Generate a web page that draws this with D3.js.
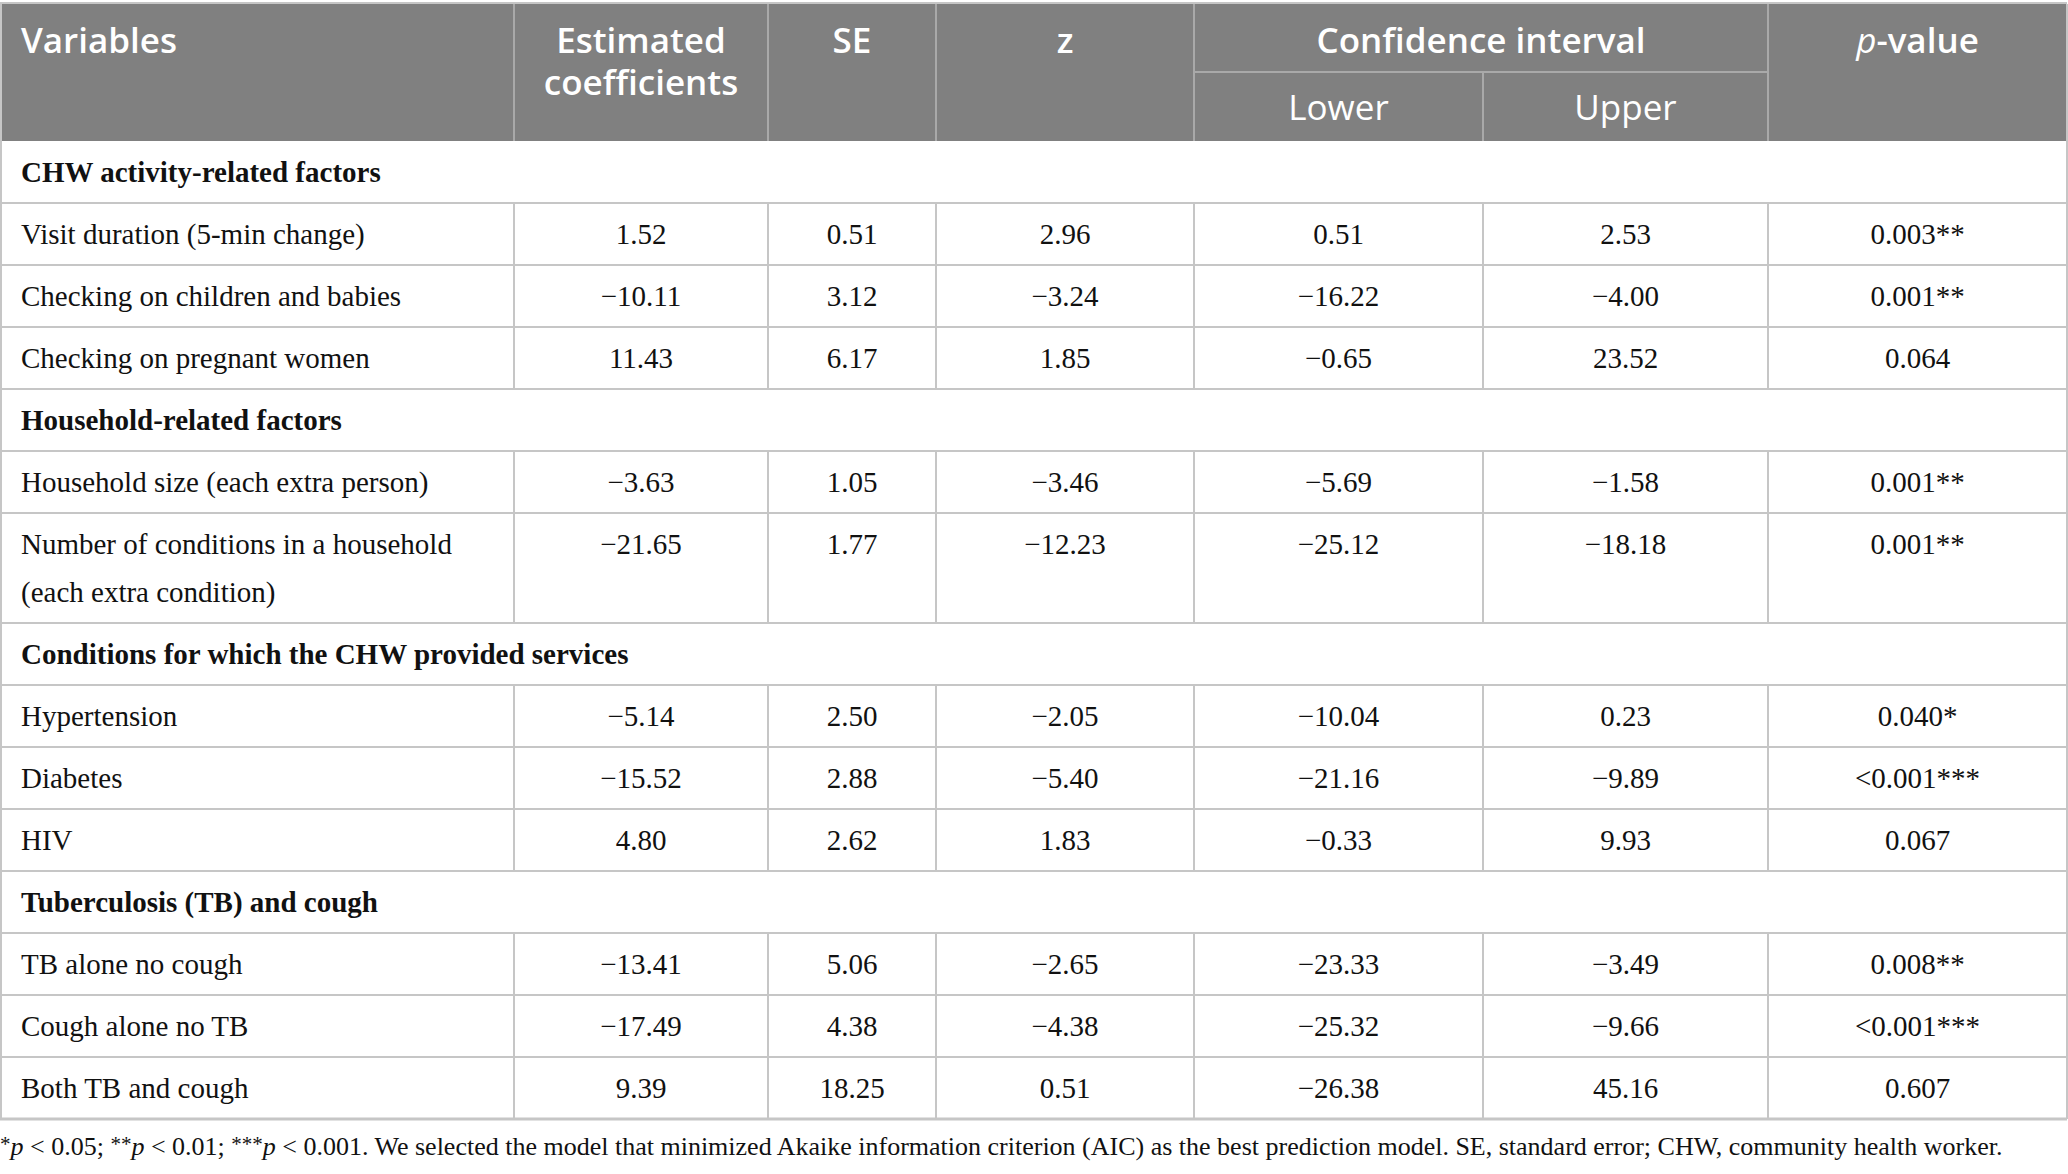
<!DOCTYPE html>
<html>
<head>
<meta charset="utf-8">
<script src="https://cdn.jsdelivr.net/npm/d3@7"></script>
<style>
  html, body { margin: 0; padding: 0; background: #fff; }
  #table svg { display: block; }
</style>
</head>
<body>
<div id="table"></div>
<script>
// table content
const sections = [
    "CHW activity-related factors",
    "Household-related factors",
    "Conditions for which the CHW provided services",
    "Tuberculosis (TB) and cough"
];

const variables = [
    ["Visit duration (5-min change)"],
    ["Checking on children and babies"],
    ["Checking on pregnant women"],
    ["Household size (each extra person)"],
    ["Number of conditions in a household", "(each extra condition)"],
    ["Hypertension"],
    ["Diabetes"],
    ["HIV"],
    ["TB alone no cough"],
    ["Cough alone no TB"],
    ["Both TB and cough"]
];

// which section each variable belongs to
const variableSection = [0, 0, 0, 1, 1, 2, 2, 2, 3, 3, 3];

const coefficients = ["1.52", "−10.11", "11.43", "−3.63", "−21.65", "−5.14", "−15.52", "4.80", "−13.41", "−17.49", "9.39"];
const stdErrors    = ["0.51", "3.12", "6.17", "1.05", "1.77", "2.50", "2.88", "2.62", "5.06", "4.38", "18.25"];
const zValues      = ["2.96", "−3.24", "1.85", "−3.46", "−12.23", "−2.05", "−5.40", "1.83", "−2.65", "−4.38", "0.51"];
const ciLower      = ["0.51", "−16.22", "−0.65", "−5.69", "−25.12", "−10.04", "−21.16", "−0.33", "−23.33", "−25.32", "−26.38"];
const ciUpper      = ["2.53", "−4.00", "23.52", "−1.58", "−18.18", "0.23", "−9.89", "9.93", "−3.49", "−9.66", "45.16"];
const pValues      = ["0.003**", "0.001**", "0.064", "0.001**", "0.001**", "0.040*", "<0.001***", "0.067", "0.008**", "<0.001***", "0.607"];

const columnKeys = ["variable", "coef", "se", "z", "lower", "upper", "p"];
const headerTop = ["Variables", ["Estimated", "coefficients"], "SE", "z", "Confidence interval", "", "p-value"];
const headerSub = ["Lower", "Upper"];

// layout
const width = 2068, height = 1174;
const colEdges = [0, 514, 768, 936, 1194, 1483, 1768, 2067];
const headerY0 = 4, headerMid = 72, headerY1 = 141;
const rowH = 62, lineH = 48;
const headFill = "#808080", headLine = "#a9a9a9", bodyLine = "#c6c6c6";
const serif = "'Liberation Serif', 'DejaVu Serif', serif";
const sans = "'Open Sans', 'Noto Sans', sans-serif";

const x = d3.scaleOrdinal().domain(columnKeys).range(colEdges.slice(0, -1));
const colW = k => colEdges[columnKeys.indexOf(k) + 1] - x(k);
const colCenter = k => x(k) + colW(k) / 2;

// build the row list: section headings + variables
const rows = [];
sections.forEach((s, si) => {
    rows.push({ type: "section", label: [s] });
    variables.forEach((v, i) => {
        if (variableSection[i] !== si) return;
        rows.push({
            type: "data", label: v,
            coef: coefficients[i], se: stdErrors[i], z: zValues[i],
            lower: ciLower[i], upper: ciUpper[i], p: pValues[i]
        });
    });
});
rows.forEach(r => r.h = rowH + (r.label.length - 1) * lineH);
const offsets = [headerY1, ...d3.cumsum(rows, r => r.h).map(c => headerY1 + c)];
rows.forEach((r, i) => { r.y0 = offsets[i]; r.y1 = offsets[i + 1]; });
const tableBottom = offsets[offsets.length - 1];

const svg = d3.select("#table")
    .append("svg")
    .attr("width", width)
    .attr("height", height);

// header block
svg.append("rect")
    .attr("x", 0).attr("y", headerY0)
    .attr("width", colEdges[colEdges.length - 1]).attr("height", headerY1 - headerY0)
    .attr("fill", headFill);

const head = svg.append("g").attr("class", "header")
    .attr("fill", "#fff")
    .style("font-family", sans)
    .style("font-size", "35px")
    .style("font-weight", 600);

// header dividers
head.selectAll("line.v")
    .data(colEdges.slice(1, -1))
    .join("line")
    .attr("x1", d => d).attr("x2", d => d)
    .attr("y1", (d, i) => columnKeys[i + 1] === "upper" ? headerMid : headerY0)
    .attr("y2", headerY1)
    .attr("stroke", headLine).attr("stroke-width", 2);

head.append("line")
    .attr("x1", x("lower")).attr("x2", x("p"))
    .attr("y1", headerMid).attr("y2", headerMid)
    .attr("stroke", headLine).attr("stroke-width", 2);

headerTop.forEach((t, i) => {
    const k = columnKeys[i];
    if (t === "") return;
    let cx = colCenter(k), anchor = "middle";
    if (k === "variable") { cx = 21; anchor = "start"; }
    if (k === "lower") cx = (x("lower") + x("p")) / 2;
    const lines = Array.isArray(t) ? t : [t];
    lines.forEach((l, li) => {
        const txt = head.append("text")
            .attr("x", cx).attr("y", 53 + li * 42)
            .attr("text-anchor", anchor);
        if (l === "p-value") {
            txt.append("tspan").attr("font-style", "italic").attr("font-weight", 400).text("p");
            txt.append("tspan").text("-value");
        } else {
            txt.text(l);
        }
    });
});

headerSub.forEach((t, i) => {
    const k = columnKeys[4 + i];
    head.append("text")
        .attr("x", colCenter(k)).attr("y", 120)
        .attr("text-anchor", "middle")
        .style("font-weight", 400)
        .text(t);
});

// body rows
const body = svg.append("g").attr("class", "body")
    .style("font-family", serif)
    .style("font-size", "29px")
    .attr("fill", "#111");

const rowG = body.selectAll("g.row")
    .data(rows)
    .join("g")
    .attr("class", "row")
    .attr("transform", d => `translate(0,${d.y0})`);

rowG.append("text")
    .attr("x", 21).attr("y", 41)
    .style("font-weight", d => d.type === "section" ? 700 : 400)
    .selectAll("tspan")
    .data(d => d.label)
    .join("tspan")
    .attr("x", 21)
    .attr("dy", (d, i) => i ? lineH : 0)
    .text(d => d);

const valueKeys = columnKeys.slice(1);
rowG.filter(d => d.type === "data")
    .selectAll("text.val")
    .data(d => valueKeys.map(k => ({ k, v: d[k] })))
    .join("text")
    .attr("class", "val")
    .attr("x", d => colCenter(d.k))
    .attr("y", 41)
    .attr("text-anchor", "middle")
    .text(d => d.v);

// vertical lines in data rows
rowG.filter(d => d.type === "data")
    .each(function (r) {
        d3.select(this).selectAll("line.v")
            .data(colEdges.slice(1, -1))
            .join("line")
            .attr("class", "v")
            .attr("x1", d => d).attr("x2", d => d)
            .attr("y1", 0).attr("y2", r.h)
            .attr("stroke", bodyLine).attr("stroke-width", 2);
    });

// horizontal row lines
body.selectAll("line.h")
    .data(offsets.slice(1))
    .join("line")
    .attr("class", "h")
    .attr("x1", 0).attr("x2", colEdges[colEdges.length - 1])
    .attr("y1", d => d).attr("y2", d => d)
    .attr("stroke", bodyLine).attr("stroke-width", (d, i, n) => i === n.length - 1 ? 3 : 2);

// outer borders
svg.append("line")
    .attr("x1", 0).attr("x2", colEdges[colEdges.length - 1])
    .attr("y1", headerY0 - 1).attr("y2", headerY0 - 1)
    .attr("stroke", bodyLine).attr("stroke-width", 2);
[1, colEdges[colEdges.length - 1]].forEach(xx => {
    svg.append("line")
        .attr("x1", xx).attr("x2", xx)
        .attr("y1", headerY0).attr("y2", tableBottom)
        .attr("stroke", bodyLine).attr("stroke-width", 2);
});

// footnote
const note = svg.append("text")
    .attr("x", 0).attr("y", tableBottom + 36)
    .style("font-family", serif)
    .style("font-size", "26px")
    .attr("fill", "#111");
const noteParts = [
    ["sup", "*"], ["i", "p"], ["", " < 0.05; "],
    ["sup", "**"], ["i", "p"], ["", " < 0.01; "],
    ["sup", "***"], ["i", "p"], ["", " < 0.001. We selected the model that minimized Akaike information criterion (AIC) as the best prediction model. SE, standard error; CHW, community health worker."]
];
noteParts.forEach(([kind, t]) => {
    const ts = note.append("tspan").text(t);
    if (kind === "i") ts.attr("font-style", "italic");
    if (kind === "sup") ts.attr("baseline-shift", "4").style("font-size", "21px");
});
</script>
</body>
</html>
